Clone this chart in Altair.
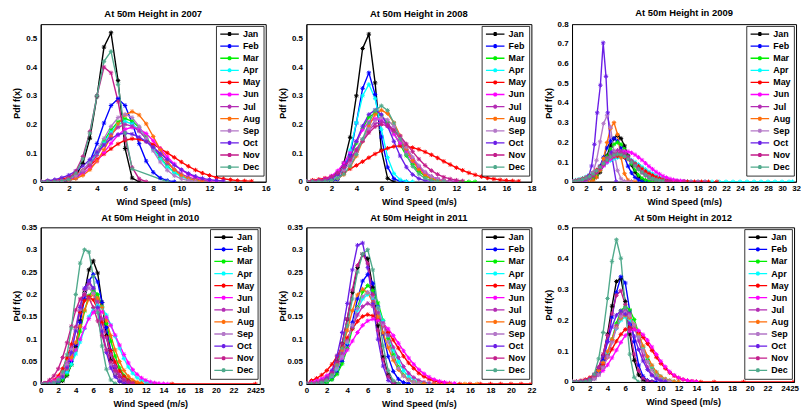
import altair as alt
import pandas as pd

MONTHS = ["Jan", "Feb", "Mar", "Apr", "May", "Jun", "Jul", "Aug", "Sep", "Oct", "Nov", "Dec"]
COLORS = ["#000000", "#0000ff", "#00f000", "#00ffff", "#ff0000", "#ff00ff",
          "#b42db4", "#ff6e0a", "#b478c8", "#6a1ee6", "#c31e8c", "#50aa8c"]
YEARS = ["2007", "2008", "2009", "2010", "2011", "2012"]

# wind speed grid (m/s) shared by the monthly curves
GRID = [0.0, 0.5, 1.0, 1.5, 2.0, 2.5, 3.0, 3.5, 4.0, 4.5, 5.0, 5.5, 6.0, 6.5, 7.0, 7.5,
        8.0, 8.5, 9.0, 9.5, 10.0, 10.5, 11.0, 11.5, 12.0, 12.5, 13.0, 13.5, 14.0, 14.5,
        15.0, 15.5, 16.0, 16.5, 17.0, 17.5, 18.0]

PDF_2007 = {
    "Jan": [0, 0, 0, 0.001, 0.006, 0.022, 0.064, 0.152, 0.298, 0.47, 0.52, 0.353, 0.116, 0.013, 0],
    "Feb": [0, 0, 0, 0.001, 0.004, 0.013, 0.033, 0.072, 0.133, 0.205, 0.266, 0.29, 0.266, 0.205, 0.133, 0.072, 0.033, 0.013, 0.004, 0],
    "Mar": [0, 0.001, 0.002, 0.004, 0.01, 0.02, 0.038, 0.065, 0.101, 0.142, 0.181, 0.209, 0.22, 0.212, 0.189, 0.156, 0.119, 0.084, 0.055, 0.033, 0.019, 0.01, 0.005],
    "Apr": [0, 0.001, 0.002, 0.004, 0.009, 0.019, 0.036, 0.062, 0.096, 0.135, 0.173, 0.2, 0.21, 0.202, 0.18, 0.148, 0.113, 0.08, 0.052, 0.032, 0.018, 0.009, 0.004],
    "May": [0, 0.002, 0.004, 0.009, 0.016, 0.026, 0.04, 0.058, 0.078, 0.097, 0.115, 0.132, 0.145, 0.15, 0.148, 0.141, 0.13, 0.116, 0.101, 0.085, 0.069, 0.054, 0.041, 0.03, 0.022, 0.015, 0.01, 0.007, 0.004, 0.003, 0.002],
    "Jun": [0, 0.001, 0.002, 0.004, 0.008, 0.016, 0.029, 0.047, 0.072, 0.102, 0.134, 0.163, 0.183, 0.19, 0.184, 0.168, 0.143, 0.115, 0.087, 0.062, 0.041, 0.026, 0.015, 0.008, 0.004, 0.002],
    "Jul": [0, 0.001, 0.0015, 0.004, 0.009, 0.018, 0.034, 0.059, 0.092, 0.129, 0.165, 0.19, 0.2, 0.194, 0.176, 0.151, 0.121, 0.092, 0.065, 0.043, 0.027, 0.016, 0.009, 0.005, 0.002],
    "Aug": [0, 0, 0.001, 0.002, 0.005, 0.011, 0.022, 0.042, 0.072, 0.112, 0.158, 0.202, 0.233, 0.245, 0.233, 0.202, 0.158, 0.112, 0.072, 0.042, 0.022, 0.011, 0.005, 0.002],
    "Sep": [0, 0.001, 0.002, 0.0045, 0.01, 0.021, 0.04, 0.069, 0.108, 0.151, 0.193, 0.224, 0.235, 0.224, 0.193, 0.151, 0.108, 0.069, 0.04, 0.021, 0.01, 0.0045, 0.002],
    "Oct": [0, 0.004, 0.0075, 0.014, 0.023, 0.037, 0.055, 0.078, 0.103, 0.128, 0.15, 0.165, 0.17, 0.166, 0.156, 0.14, 0.12, 0.099, 0.078, 0.058, 0.042, 0.029, 0.019, 0.012, 0.0075, 0.0044, 0.0024],
    "Nov": [0, 0, 0, 0.003, 0.012, 0.037, 0.088, 0.175, 0.3, 0.4, 0.38, 0.28, 0.15, 0.05, 0.01, 0],
    "Dec": [0, 0, 0, 0.002, 0.008, 0.03, 0.08, 0.17, 0.3, 0.42, 0.455, 0.34, 0.17, 0.045, None, None, None, None, 0],
}

PDF_2008 = {
    "Jan": [0, 0, 0, 0.001, 0.006, 0.023, 0.065, 0.155, 0.3, 0.465, 0.515, 0.345, 0.11, 0.012, 0],
    "Feb": [0, 0, 0, 0, 0.0015, 0.008, 0.032, 0.095, 0.205, 0.326, 0.38, 0.304, 0.156, 0.051, 0.011, 0.0015, 0],
    "Mar": [0, 0, 0.0014, 0.004, 0.011, 0.024, 0.049, 0.086, 0.135, 0.186, 0.225, 0.24, 0.231, 0.206, 0.17, 0.129, 0.091, 0.06, 0.036, 0.02, 0.011, 0.005, 0.0023, 0.001, 0, 0, 0, 0],
    "Apr": [0, 0, 0, 0.001, 0.004, 0.015, 0.046, 0.11, 0.206, 0.3, 0.34, 0.291, 0.183, 0.085, 0.029, 0.007, 0.0014, 0],
    "May": [0, 0.0055, 0.0084, 0.0126, 0.018, 0.025, 0.034, 0.045, 0.057, 0.07, 0.084, 0.097, 0.108, 0.117, 0.123, 0.125, 0.124, 0.119, 0.113, 0.104, 0.094, 0.083, 0.071, 0.06, 0.049, 0.04, 0.031, 0.024, 0.018, 0.013, 0.0095, 0.0066, 0.0045, 0.003, 0.002],
    "Jun": [0, 0.0017, 0.004, 0.01, 0.02, 0.038, 0.065, 0.101, 0.142, 0.181, 0.209, 0.22, 0.213, 0.194, 0.166, 0.134, 0.101, 0.072, 0.048, 0.03, 0.018, 0.0097, 0.005, 0.0024, 0.001],
    "Jul": [0, 0.002, 0.0044, 0.0092, 0.018, 0.032, 0.052, 0.08, 0.113, 0.148, 0.18, 0.202, 0.21, 0.202, 0.18, 0.148, 0.113, 0.08, 0.052, 0.032, 0.018, 0.0092, 0.0044, 0.002, 0.0008],
    "Aug": [0, 0, 0.0005, 0.0015, 0.004, 0.011, 0.025, 0.051, 0.09, 0.141, 0.194, 0.235, 0.25, 0.238, 0.206, 0.161, 0.115, 0.074, 0.043, 0.023, 0.011, 0.005, 0.002],
    "Sep": [0, 0.0007, 0.0017, 0.004, 0.01, 0.02, 0.039, 0.066, 0.103, 0.145, 0.185, 0.214, 0.225, 0.216, 0.193, 0.159, 0.121, 0.086, 0.056, 0.034, 0.019, 0.01, 0.0047, 0.0021],
    "Oct": [0, 0, 0.0015, 0.004, 0.011, 0.025, 0.051, 0.09, 0.141, 0.194, 0.235, 0.25, 0.235, 0.194, 0.141, 0.09, 0.051, 0.025, 0.011, 0.004, 0.0015],
    "Nov": [0, 0.002, 0.004, 0.0088, 0.017, 0.03, 0.05, 0.076, 0.108, 0.141, 0.171, 0.192, 0.2, 0.195, 0.18, 0.159, 0.132, 0.105, 0.079, 0.057, 0.039, 0.026, 0.016, 0.0098, 0.0056, 0.003],
    "Dec": [0, 0, 0.0005, 0.0016, 0.0045, 0.012, 0.027, 0.054, 0.095, 0.149, 0.205, 0.249, 0.265, 0.249, 0.205, 0.149, 0.095, 0.054, 0.027, 0.012, 0.0045, 0.0016, 0.0005],
}

PDF_2009 = {
    "Jan": [0, 0, 0, 0.0005, 0.0014, 0.004, 0.01, 0.024, 0.048, 0.085, 0.133, 0.182, 0.22, 0.235, 0.22, 0.182, 0.133, 0.085, 0.048, 0.024, 0.01, 0.004],
    "Feb": [0, 0, 0, 0.0013, 0.0037, 0.0097, 0.022, 0.045, 0.079, 0.124, 0.171, 0.206, 0.22, 0.206, 0.171, 0.124, 0.079, 0.045, 0.022, 0.0097, 0.0037, 0.0013, 0],
    "Mar": [0, 0, 0.0006, 0.0015, 0.0038, 0.0088, 0.018, 0.034, 0.059, 0.092, 0.129, 0.165, 0.19, 0.2, 0.19, 0.165, 0.129, 0.092, 0.059, 0.034, 0.018, 0.0088, 0.0038, 0.0015, 0.0006, 0],
    "Apr": [0, 0.0084, 0.0126, 0.018, 0.025, 0.034, 0.045, 0.057, 0.07, 0.084, 0.097, 0.108, 0.117, 0.123, 0.125, 0.123, 0.118, 0.11, 0.1, 0.088, 0.076, 0.063, 0.051, 0.041, 0.031, 0.023, 0.017, 0.012, 0.008, 0.0055, 0.0036, 0.0022, 0.0014, 0.0008, 0.0005],
    "May": [0, 0.0057, 0.0094, 0.015, 0.022, 0.032, 0.045, 0.06, 0.076, 0.092, 0.107, 0.119, 0.127, 0.13, 0.128, 0.123, 0.115, 0.104, 0.092, 0.079, 0.066, 0.053, 0.042, 0.032, 0.024, 0.0176, 0.0124, 0.0086, 0.0057, 0.0038, 0.0023, 0.0014, 0.0009, 0.0005],
    "Jun": [0, 0.004, 0.0067, 0.0107, 0.0166, 0.024, 0.035, 0.047, 0.062, 0.08, 0.098, 0.115, 0.131, 0.144, 0.152, 0.155, 0.153, 0.147, 0.137, 0.124, 0.11, 0.094, 0.078, 0.064, 0.05, 0.039, 0.029, 0.021, 0.0147, 0.01, 0.0068, 0.0045, 0.003],
    "Jul": [0, 0.0018, 0.0037, 0.007, 0.0128, 0.022, 0.035, 0.052, 0.073, 0.097, 0.121, 0.141, 0.155, 0.16, 0.156, 0.144, 0.127, 0.106, 0.084, 0.064, 0.046, 0.031, 0.021, 0.013, 0.0078, 0.0045, 0.0024, 0.0013, 0],
    "Aug": [0, 0, 0, 0, 0, 0.002, 0.007, 0.023, 0.057, 0.118, 0.199, 0.271, 0.3, 0.24, 0.123, 0.041, 0.008, 0.001, 0],
    "Sep": [0, 0, 0, 0.001, 0.004, 0.015, 0.045, 0.109, 0.203, 0.295, 0.335, 0.276, 0.153, 0.058, 0.015, 0.002, 0, 0],
    "Oct": [],
    "Nov": [0, 0.0016, 0.0033, 0.0064, 0.0116, 0.0196, 0.031, 0.047, 0.066, 0.088, 0.109, 0.128, 0.14, 0.145, 0.142, 0.133, 0.119, 0.103, 0.084, 0.066, 0.05, 0.036, 0.025, 0.0165, 0.0104, 0.0064, 0.0038, 0.002, 0.001],
    "Dec": [0, 0.004, 0.0069, 0.011, 0.018, 0.027, 0.04, 0.056, 0.074, 0.093, 0.111, 0.126, 0.136, 0.14, 0.137, 0.128, 0.115, 0.099, 0.081, 0.064, 0.048, 0.035, 0.024, 0.016, 0.01, 0.0062, 0.0036],
}
# October 2009 was sampled at its own wind speeds
OCT_2009_X = [0, 1.0, 1.6, 2.0, 2.4, 2.8, 3.2, 3.6, 4.05, 4.45, 4.85, 5.1, 5.6, 6.3]
OCT_2009_Y = [0, 0, 0.002, 0.01, 0.03, 0.08, 0.19, 0.35, 0.49, 0.705, 0.535, 0.35, 0.15, 0]

PDF_2010 = {
    "Jan": [0, 0, 0, 0.0007, 0.0023, 0.007, 0.019, 0.043, 0.084, 0.141, 0.205, 0.255, 0.275, 0.248, 0.182, 0.108, 0.053, 0.021, 0.0066, 0.0018, 0.0004],
    "Feb": [0, 0, 0, 0.0015, 0.004, 0.011, 0.025, 0.05, 0.088, 0.138, 0.19, 0.23, 0.245, 0.228, 0.182, 0.126, 0.075, 0.038, 0.017, 0.0064, 0.0021, 0.0006],
    "Mar": [0, 0, 0, 0.0013, 0.0036, 0.0092, 0.021, 0.043, 0.076, 0.118, 0.163, 0.197, 0.21, 0.2, 0.173, 0.135, 0.096, 0.062, 0.036, 0.019, 0.0092, 0.004, 0.0016],
    "Apr": [0, 0.0007, 0.0016, 0.0037, 0.0077, 0.015, 0.026, 0.044, 0.067, 0.094, 0.124, 0.15, 0.168, 0.175, 0.17, 0.154, 0.132, 0.106, 0.08, 0.057, 0.038, 0.024, 0.014, 0.0077, 0.004, 0.0019, 0.0009],
    "May": [0, 0.0015, 0.0037, 0.0086, 0.018, 0.034, 0.058, 0.089, 0.126, 0.16, 0.186, 0.195, 0.188, 0.167, 0.138, 0.105, 0.074, 0.049, 0.029, 0.017, 0.0086, 0.0041, 0.0018, 0.0007],
    "Jun": [0, 0.0018, 0.0038, 0.0073, 0.0132, 0.022, 0.036, 0.054, 0.076, 0.1, 0.125, 0.146, 0.16, 0.165, 0.161, 0.149, 0.131, 0.109, 0.087, 0.066, 0.047, 0.032, 0.0215, 0.0134, 0.0081, 0.0046, 0.0025, 0.0013, 0.0006, 0],
    "Jul": [0, 0, 0.0014, 0.0038, 0.0099, 0.023, 0.046, 0.081, 0.127, 0.174, 0.211, 0.225, 0.214, 0.185, 0.145, 0.103, 0.066, 0.039, 0.02, 0.0099, 0.0043, 0.0017],
    "Aug": [0, 0, 0.0015, 0.0038, 0.0088, 0.018, 0.034, 0.059, 0.092, 0.129, 0.165, 0.19, 0.2, 0.192, 0.171, 0.141, 0.108, 0.076, 0.05, 0.03, 0.017, 0.0088, 0.0042, 0.0019],
    "Sep": [0, 0, 0.0013, 0.0037, 0.0095, 0.022, 0.044, 0.077, 0.121, 0.167, 0.202, 0.215, 0.202, 0.167, 0.121, 0.077, 0.044, 0.022, 0.0095, 0.0037, 0.0013],
    "Oct": [0, 0, 0.0006, 0.002, 0.006, 0.016, 0.036, 0.07, 0.118, 0.171, 0.214, 0.23, 0.214, 0.171, 0.118, 0.07, 0.036, 0.016, 0.006, 0.002, 0.0006],
    "Nov": [0, 0.002, 0.0088, 0.018, 0.034, 0.059, 0.092, 0.129, 0.165, 0.19, 0.2, 0.192, 0.171, 0.141, 0.108, 0.076, 0.05, 0.03, 0.017, 0.0088, 0.0042, 0.0019],
    "Dec": [0, 0, 0, 0.002, 0.009, 0.027, 0.065, 0.125, 0.2, 0.27, 0.3, 0.295, 0.24, 0.16, 0.085, 0.033, 0.009, 0.001],
}

PDF_2011 = {
    "Jan": [0, 0, 0.001, 0.004, 0.01, 0.024, 0.05, 0.09, 0.145, 0.205, 0.26, 0.29, 0.28, 0.215, 0.13, 0.06, 0.02, 0.004, 0],
    "Feb": [0, 0, 0, 0.0015, 0.004, 0.011, 0.025, 0.05, 0.088, 0.138, 0.19, 0.23, 0.245, 0.225, 0.173, 0.112, 0.061, 0.028, 0.0108, 0.0034, 0.001],
    "Mar": [0, 0, 0, 0.0013, 0.0037, 0.0097, 0.022, 0.045, 0.079, 0.124, 0.171, 0.206, 0.22, 0.209, 0.181, 0.142, 0.101, 0.065, 0.038, 0.02, 0.0097, 0.0042, 0.0017, 0.0007],
    "Apr": [0, 0, 0.0015, 0.0038, 0.0088, 0.018, 0.034, 0.059, 0.092, 0.129, 0.165, 0.19, 0.2, 0.192, 0.171, 0.141, 0.108, 0.076, 0.05, 0.03, 0.017, 0.0088, 0.0042, 0.0019, 0.0008],
    "May": [0, 0.0076, 0.0126, 0.02, 0.03, 0.044, 0.062, 0.082, 0.103, 0.123, 0.14, 0.151, 0.155, 0.152, 0.144, 0.131, 0.115, 0.098, 0.08, 0.062, 0.047, 0.035, 0.024, 0.0166, 0.0107, 0.0067, 0.004, 0.0023, 0.0013],
    "Jun": [0, 0.004, 0.0071, 0.0117, 0.019, 0.028, 0.042, 0.058, 0.076, 0.096, 0.115, 0.131, 0.141, 0.145, 0.142, 0.135, 0.123, 0.108, 0.091, 0.074, 0.058, 0.044, 0.032, 0.023, 0.0155, 0.01, 0.0062, 0.0038, 0.0022, 0.0013],
    "Jul": [0, 0.0017, 0.0038, 0.0079, 0.015, 0.027, 0.045, 0.069, 0.097, 0.127, 0.154, 0.173, 0.18, 0.174, 0.159, 0.136, 0.109, 0.082, 0.059, 0.039, 0.024, 0.0144, 0.0079, 0.004, 0.002, 0.0009],
    "Aug": [0, 0, 0.0013, 0.0036, 0.0093, 0.021, 0.043, 0.076, 0.12, 0.164, 0.199, 0.212, 0.204, 0.182, 0.15, 0.114, 0.081, 0.053, 0.032, 0.018, 0.0093, 0.0045, 0.002, 0.0008],
    "Sep": [0, 0, 0.0016, 0.0039, 0.009, 0.018, 0.035, 0.06, 0.094, 0.132, 0.169, 0.195, 0.205, 0.195, 0.169, 0.132, 0.094, 0.06, 0.035, 0.018, 0.009, 0.0039, 0.0016],
    "Oct": [0, 0, 0.001, 0.004, 0.012, 0.03, 0.063, 0.115, 0.18, 0.255, 0.31, 0.315, 0.26, 0.18, 0.1, 0.04, 0.008, 0],
    "Nov": [0, 0, 0.001, 0.004, 0.01, 0.025, 0.05, 0.09, 0.145, 0.21, 0.265, 0.29, 0.27, 0.2, 0.12, 0.055, 0.017, 0.003, 0],
    "Dec": [0, 0, 0, 0.003, 0.008, 0.02, 0.042, 0.08, 0.13, 0.19, 0.25, 0.29, 0.3, 0.255, 0.17, 0.085, 0.03, 0.007, 0.001],
}

PDF_2012 = {
    "Jan": [0, 0, 0, 0.002, 0.007, 0.018, 0.04, 0.085, 0.155, 0.245, 0.325, 0.335, 0.26, 0.155, 0.07, 0.023, 0.006, 0.001, 0],
    "Feb": [0, 0, 0, 0.001, 0.005, 0.013, 0.032, 0.07, 0.13, 0.21, 0.29, 0.34, 0.32, 0.23, 0.13, 0.055, 0.018, 0.005, 0.001, 0],
    "Mar": [0, 0, 0, 0.0015, 0.004, 0.011, 0.025, 0.05, 0.088, 0.138, 0.19, 0.23, 0.245, 0.233, 0.202, 0.158, 0.112, 0.072, 0.042, 0.022, 0.011, 0.0047, 0.0019],
    "Apr": [0, 0, 0.0016, 0.004, 0.0092, 0.019, 0.036, 0.062, 0.096, 0.135, 0.173, 0.2, 0.21, 0.202, 0.18, 0.148, 0.113, 0.08, 0.052, 0.032, 0.018, 0.0092, 0.0044, 0.002, 0.0008],
    "May": [0, 0.0019, 0.004, 0.0077, 0.014, 0.024, 0.038, 0.057, 0.08, 0.106, 0.132, 0.154, 0.17, 0.175, 0.171, 0.16, 0.144, 0.124, 0.102, 0.08, 0.06, 0.044, 0.03, 0.02, 0.0126, 0.0077, 0.0046, 0.0025, 0.0013],
    "Jun": [0, 0.0009, 0.0019, 0.0039, 0.0075, 0.0136, 0.023, 0.037, 0.055, 0.078, 0.103, 0.128, 0.15, 0.165, 0.17, 0.166, 0.153, 0.135, 0.113, 0.089, 0.067, 0.049, 0.033, 0.022, 0.0138, 0.0083, 0.0048, 0.0026, 0.0014],
    "Jul": [0, 0, 0, 0.0014, 0.004, 0.0103, 0.024, 0.048, 0.085, 0.133, 0.182, 0.22, 0.235, 0.22, 0.182, 0.133, 0.085, 0.048, 0.024, 0.0103, 0.004, 0.0014],
    "Aug": [0, 0, 0.0017, 0.0041, 0.0095, 0.019, 0.037, 0.063, 0.098, 0.138, 0.177, 0.205, 0.215, 0.207, 0.184, 0.152, 0.116, 0.082, 0.054, 0.032, 0.018, 0.0095, 0.0045, 0.002, 0.0008],
    "Sep": [0, 0, 0, 0.0014, 0.0038, 0.0099, 0.023, 0.046, 0.081, 0.127, 0.174, 0.211, 0.225, 0.214, 0.185, 0.145, 0.103, 0.066, 0.039, 0.02, 0.0099, 0.0043, 0.0017],
    "Oct": [0, 0, 0.0014, 0.0039, 0.0101, 0.023, 0.047, 0.083, 0.13, 0.178, 0.216, 0.23, 0.219, 0.189, 0.148, 0.105, 0.068, 0.04, 0.021, 0.0101, 0.0044, 0.0018],
    "Nov": [0, 0, 0, 0.003, 0.009, 0.022, 0.048, 0.09, 0.15, 0.22, 0.28, 0.295, 0.25, 0.17, 0.09, 0.037, 0.012, 0.003, 0],
    "Dec": [0, 0, 0, 0.001, 0.006, 0.025, 0.075, 0.16, 0.27, 0.39, 0.46, 0.4, 0.24, 0.09, 0.015, 0],
}

PDFS = {"2007": PDF_2007, "2008": PDF_2008, "2009": PDF_2009,
        "2010": PDF_2010, "2011": PDF_2011, "2012": PDF_2012}

# wind speeds where a curve keeps running along zero after its body
ZERO_TAILS = {
    ("2009", "Apr"): [18, 19, 20, 21, 22, 23, 24, 25, 26, 27, 28, 29, 30, 31, 31.5],
    ("2009", "May"): [17.5, 18.5, 19.5, 20.7],
    ("2009", "Nov"): [15, 16, 17, 18, 19],
    ("2010", "May"): [13, 15, 24.5],
    ("2011", "May"): [15, 16, 17, 18, 19, 20, 21, 22],
    ("2011", "Aug"): [12.5, 14, 15.5, 16.7],
    ("2012", "May"): [14.5, 16, 19.3, 25],
}

X_MAX = [16, 18, 32, 25, 22, 25]
X_TICKS = [
    [0, 2, 4, 6, 8, 10, 12, 14, 16],
    [0, 2, 4, 6, 8, 10, 12, 14, 16, 18],
    [0, 2, 4, 6, 8, 10, 12, 14, 16, 18, 20, 22, 24, 26, 28, 30, 32],
    [0, 2, 4, 6, 8, 10, 12, 14, 16, 18, 20, 22, 24, 25],
    [0, 2, 4, 6, 8, 10, 12, 14, 16, 18, 20, 22],
    [0, 2, 4, 6, 8, 10, 12, 14, 16, 18, 20, 22, 24, 25],
]
Y_MAX = [0.55, 0.55, 0.8, 0.35, 0.35, 0.5]
Y_TICKS = [
    [0, 0.1, 0.2, 0.3, 0.4, 0.5],
    [0, 0.1, 0.2, 0.3, 0.4, 0.5],
    [0, 0.1, 0.2, 0.3, 0.4, 0.5, 0.6, 0.7, 0.8],
    [0, 0.05, 0.1, 0.15, 0.2, 0.25, 0.3, 0.35],
    [0, 0.05, 0.1, 0.15, 0.2, 0.25, 0.3, 0.35],
    [0, 0.1, 0.2, 0.3, 0.4, 0.5],
]
WIDTHS = [227, 227, 226, 221, 227, 224]
HEIGHTS = [159, 159, 159, 158, 158, 156]
# panels whose top tick label sits on the frame push the title up; compensate
TITLE_OFFSETS = [6, 6, 2.5, 1, 1, 1]

rows = []
for year in YEARS:
    for mi, month in enumerate(MONTHS):
        if year == "2009" and month == "Oct":
            pts = list(zip(OCT_2009_X, OCT_2009_Y))
        else:
            pts = [(GRID[i], v) for i, v in enumerate(PDFS[year][month]) if v is not None]
        pts += [(xv, 0.0) for xv in ZERO_TAILS.get((year, month), [])]
        for xv, yv in pts:
            rows.append({"year": year, "month": month, "mi": mi, "x": xv, "y": yv})
df = pd.DataFrame(rows)

FONT = "Liberation Sans"
STAR = "M-1,0L1,0M0,-1L0,1M-0.7,-0.7L0.7,0.7M-0.7,0.7L0.7,-0.7"
LEG_SYMBOL = ("M-1,0L1,0M-0.22,0L0.22,0M0,-0.22L0,0.22"
              "M-0.16,-0.16L0.16,0.16M-0.16,0.16L0.16,-0.16")


def panel(k):
    year = YEARS[k]
    sub = df[df["year"] == year]
    x = alt.X("x:Q",
              scale=alt.Scale(domain=[0, X_MAX[k]], nice=False, zero=False),
              axis=alt.Axis(values=X_TICKS[k], title="Wind Speed (m/s)",
                            labelFlush=False, labelOverlap=False))
    y = alt.Y("y:Q",
              scale=alt.Scale(domain=[0, Y_MAX[k]], nice=False),
              axis=alt.Axis(values=Y_TICKS[k], title="Pdf f(x)", format="~g",
                            labelOverlap=False, minExtent=16, maxExtent=16))
    color = alt.Color("month:N",
                      scale=alt.Scale(domain=MONTHS, range=COLORS),
                      legend=alt.Legend(title=None, orient="top-right"))
    base = alt.Chart(sub, title=alt.Title(f"At 50m Height in {year}",
                                          offset=TITLE_OFFSETS[k]))
    lines = base.mark_line(strokeWidth=1.4, clip=True).encode(
        x=x, y=y, color=color, detail="mi:O")
    pts = base.mark_point(shape=STAR, size=20, filled=False, strokeWidth=1,
                          opacity=1, clip=True).encode(x=x, y=y, color=color)
    return alt.layer(lines, pts).properties(width=WIDTHS[k], height=HEIGHTS[k])


chart = alt.concat(
    *[panel(k) for k in range(6)],
    columns=3,
    spacing={"row": 46, "column": 41},
    bounds="flush",
).resolve_scale(
    color="independent", x="independent", y="independent"
).resolve_legend(
    color="independent"
).properties(
    padding={"left": 4, "top": -2.5, "right": 0, "bottom": 0},
    background="white",
).configure_view(
    stroke="black", strokeWidth=1
).configure_axis(
    grid=False, ticks=False, domainColor="black", domainWidth=1,
    labelFont=FONT, labelFontSize=8, labelFontWeight="bold", labelColor="black",
    labelPadding=4,
    titleFont=FONT, titleFontSize=9, titleFontWeight="bold", titleColor="black",
    titlePadding=3,
).configure_axisX(
    labelPadding=3, titlePadding=5
).configure_title(
    font=FONT, fontSize=9.5, fontWeight="bold", color="black",
    frame="group", anchor="middle"
).configure_legend(
    fillColor="white", strokeColor="black", strokeWidth=0.8, padding=3,
    offset=2, cornerRadius=0,
    labelFont=FONT, labelFontSize=9, labelFontWeight="bold", labelColor="black",
    labelOffset=3, symbolType=LEG_SYMBOL, symbolSize=350,
    symbolStrokeWidth=1.3, symbolOpacity=1, clipHeight=10, rowPadding=2.2,
)

chart.save("out.html", embed_options={"renderer": "svg", "actions": False})
